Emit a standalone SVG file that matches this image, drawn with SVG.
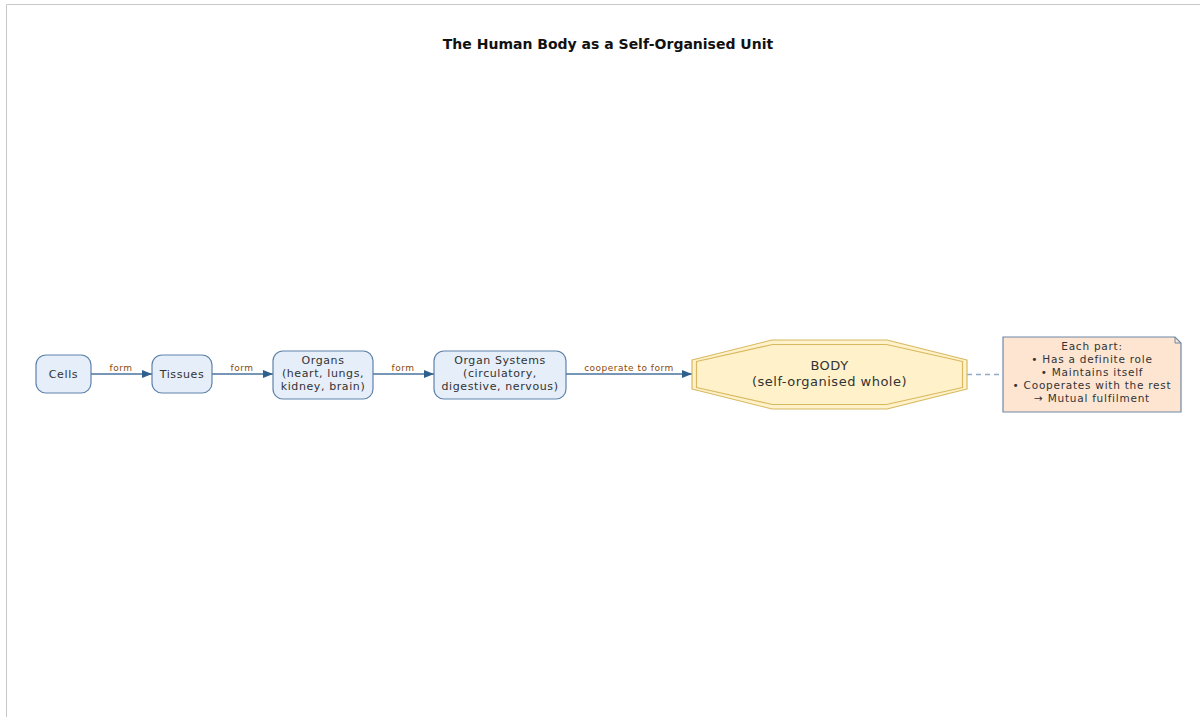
<svg xmlns="http://www.w3.org/2000/svg" width="1200" height="717" viewBox="0 0 1200 717">
  <defs>
    <marker id="arrow" viewBox="0 0 10 10" refX="10" refY="5" markerWidth="10" markerHeight="10" markerUnits="userSpaceOnUse" orient="auto">
      <path d="M0,1 L10,5 L0,9 z" fill="#2f5f8c"/>
    </marker>
    <style>
      .stage rect { fill: #e5eef9; stroke: #5e83ab; stroke-width: 1.2; }
      .stage text { font-family: "DejaVu Sans", sans-serif; font-size: 11px; letter-spacing: 0.6px; fill: #333333; text-anchor: middle; }
      .edge { stroke: #4a739c; stroke-width: 1.4; fill: none; }
      .elabel { font-family: "DejaVu Sans", sans-serif; font-size: 9px; letter-spacing: 0.5px; fill: #8a4a0a; text-anchor: middle; }
      .title { font-family: "DejaVu Sans", sans-serif; font-size: 14px; font-weight: bold; fill: #111111; text-anchor: middle; }
      .note-text { font-family: "DejaVu Sans", sans-serif; font-size: 10.5px; letter-spacing: 0.75px; fill: #333333; text-anchor: middle; }
      .body-text { font-family: "DejaVu Sans", sans-serif; font-size: 13px; letter-spacing: 0.5px; fill: #333333; text-anchor: middle; }
    </style>
  </defs>

  <!-- canvas -->
  <rect x="0" y="0" width="1200" height="717" fill="#ffffff"/>
  <path d="M6.5,717 V4.5 H1200" fill="none" stroke="#c8c8c8" stroke-width="1"/>

  <text class="title" x="608" y="49">The Human Body as a Self-Organised Unit</text>

  <!-- connectors -->
  <g id="connectors">
    <line class="edge" x1="91" y1="374" x2="152" y2="374" marker-end="url(#arrow)"/>
    <text class="elabel" x="121" y="371">form</text>
    <line class="edge" x1="212" y1="374" x2="273" y2="374" marker-end="url(#arrow)"/>
    <text class="elabel" x="242" y="371">form</text>
    <line class="edge" x1="373" y1="374" x2="434" y2="374" marker-end="url(#arrow)"/>
    <text class="elabel" x="403" y="371">form</text>
    <line class="edge" x1="566" y1="374" x2="692" y2="374" marker-end="url(#arrow)"/>
    <text class="elabel" x="629" y="371">cooperate to form</text>
    <line x1="967" y1="374.5" x2="1003" y2="374.5" stroke="#8faac4" stroke-width="1.6" stroke-dasharray="5,4"/>
  </g>

  <g id="cells" class="stage">
    <rect x="36" y="355" width="55" height="38" rx="10"/>
    <text x="63.5" y="378">Cells</text>
  </g>

  <g id="tissues" class="stage">
    <rect x="152" y="355" width="60" height="38" rx="10"/>
    <text x="182" y="378">Tissues</text>
  </g>

  <g id="organs" class="stage">
    <rect x="273" y="351" width="100" height="48" rx="10"/>
    <text x="323" y="364">Organs</text>
    <text x="323" y="377">(heart, lungs,</text>
    <text x="323" y="390">kidney, brain)</text>
  </g>

  <g id="organ-systems" class="stage">
    <rect x="434" y="351" width="132" height="48" rx="10"/>
    <text x="500" y="364">Organ Systems</text>
    <text x="500" y="377">(circulatory,</text>
    <text x="500" y="390">digestive, nervous)</text>
  </g>

  <g id="body">
    <polygon points="692,360 772,340 887,340 967,360 967,389 887,409 772,409 692,389" fill="#fff1c9" stroke="#d8b960" stroke-width="1.2" stroke-linejoin="round"/>
    <polygon points="696.5,361.5 772.5,344.5 886.5,344.5 962.5,361.5 962.5,387.5 886.5,404.5 772.5,404.5 696.5,387.5" fill="none" stroke="#d8b960" stroke-width="1.2" stroke-linejoin="round"/>
    <text class="body-text" x="829.5" y="370">BODY</text>
    <text class="body-text" x="829.5" y="386">(self-organised whole)</text>
  </g>

  <g id="note">
    <path d="M1003,337 H1175 L1181,343 V412 H1003 Z" fill="#fde5d2" stroke="#6f88a6" stroke-width="1.2"/>
    <path d="M1175,337 V343 H1181" fill="none" stroke="#6f88a6" stroke-width="1"/>
    <text class="note-text" x="1092" y="350">Each part:</text>
    <text class="note-text" x="1092" y="363">• Has a definite role</text>
    <text class="note-text" x="1092" y="376">• Maintains itself</text>
    <text class="note-text" x="1092" y="389">• Cooperates with the rest</text>
    <text class="note-text" x="1092" y="402">→ Mutual fulfilment</text>
  </g>
</svg>
